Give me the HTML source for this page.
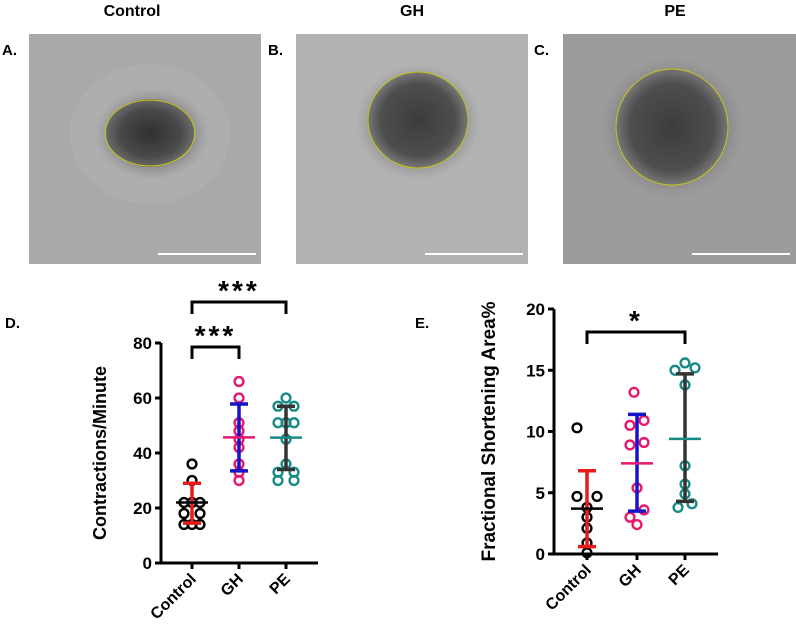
<!DOCTYPE html>
<html><head><meta charset="utf-8"><style>
body{margin:0;background:#fff;width:796px;height:629px;overflow:hidden}
svg{display:block;font-family:"Liberation Sans",Arial,sans-serif}
</style></head><body>
<svg id="fig" width="796" height="629" viewBox="0 0 796 629">
<defs>
<radialGradient id="gA" cx="0.5" cy="0.5" r="0.5"><stop offset="0" stop-color="#2f2f2f"/><stop offset="0.7" stop-color="#4a4a4a"/><stop offset="1" stop-color="#6a6a6a"/></radialGradient>
<radialGradient id="gB" cx="0.5" cy="0.5" r="0.5"><stop offset="0" stop-color="#3c3c3c"/><stop offset="0.75" stop-color="#4e4e4e"/><stop offset="1" stop-color="#777"/></radialGradient>
<radialGradient id="halo" cx="0.5" cy="0.5" r="0.5"><stop offset="0.6" stop-color="#666" stop-opacity="0.7"/><stop offset="1" stop-color="#888" stop-opacity="0"/></radialGradient>
</defs>
<g font-weight="bold" font-size="16" fill="#000">
<text x="132" y="16" text-anchor="middle">Control</text>
<text x="412" y="16" text-anchor="middle">GH</text>
<text x="675" y="16" text-anchor="middle">PE</text>
<text x="2" y="55" font-size="15">A.</text>
<text x="268" y="55" font-size="15">B.</text>
<text x="534" y="55" font-size="15">C.</text>
<text x="5" y="328" font-size="15">D.</text>
<text x="415" y="328" font-size="15">E.</text>
</g>
<g>
<rect x="29" y="34" width="232" height="230" fill="#a9a9a9"/>
<ellipse cx="150" cy="134" rx="80" ry="70" fill="#b4b4b4" opacity="0.5"/>
<ellipse cx="152" cy="134" rx="58" ry="46" fill="url(#halo)"/>
<ellipse cx="150" cy="133" rx="44" ry="34" fill="url(#gA)"/>
<ellipse cx="150" cy="133" rx="45" ry="33" fill="none" stroke="#c8c41a" stroke-width="1"/>
<rect x="158" y="253" width="98" height="2" fill="#fff"/>
</g>
<g>
<rect x="296" y="34" width="232" height="230" fill="#b2b2b2"/>
<ellipse cx="418" cy="122" rx="62" ry="58" fill="url(#halo)"/>
<ellipse cx="418" cy="120" rx="50" ry="48" fill="url(#gB)"/>
<ellipse cx="418" cy="120" rx="50" ry="48" fill="none" stroke="#c8c41a" stroke-width="1"/>
<rect x="425" y="253" width="98" height="2" fill="#fff"/>
</g>
<g>
<rect x="563" y="34" width="233" height="230" fill="#9c9c9c"/>
<ellipse cx="672" cy="128" rx="74" ry="72" fill="url(#halo)"/>
<ellipse cx="672" cy="127" rx="56" ry="58" fill="url(#gB)"/>
<ellipse cx="672" cy="127" rx="56" ry="58" fill="none" stroke="#c8c41a" stroke-width="1"/>
<rect x="692" y="253" width="98" height="2" fill="#fff"/>
</g>
<g id="chartD"></g>
<g id="chartE"></g>
</svg>
<script>
// Chart D data
const dCategories = ["Control","GH","PE"];
const dControl = [36,30,22,22,22,18,18,14,14,14];
const dControlOff = [0,0,-1,0,1,-1,1,-1,0,1];
const dGH = [66,60,51,48,45,42,36,33,30];
const dGHOff = [0,0,0,0,0,0,0,0,0];
const dPE = [60,57,57,51,51,51,45,36,33,33,30,30];
const dPEOff = [0,-1,1,-1,0,1,0,0,-1,1,-1,1];
const dMeans = [22,45.7,45.6];
const dSdLow = [14.5,33.5,34];
const dSdHigh = [29,57.8,57];
const dTicks = [0,20,40,60,80];
// Chart E data
const eCategories = ["Control","GH","PE"];
const eControl = [10.3,4.7,4.7,3.8,3.0,2.1,0.9,0.1];
const eControlOff = [-1,-1,1,0,0,0,0,0];
const eGH = [13.2,10.9,10.5,9.1,8.9,5.4,3.6,3.0,2.4];
const eGHOff = [-0.3,0.7,-0.7,0.7,-0.7,0,0.7,-0.7,0];
const ePE = [15.6,15.2,15.0,13.8,7.2,5.7,4.9,4.1,3.8];
const ePEOff = [0,1,-1,0,0,0,0,0.7,-0.7];
const eMeans = [3.7,7.4,9.4];
const eSdLow = [0.6,3.5,4.3];
const eSdHigh = [6.8,11.4,14.7];
const eTicks = [0,5,10,15,20];

const NS="http://www.w3.org/2000/svg";
function mk(parent,tag,attrs){const e=document.createElementNS(NS,tag);for(const k in attrs)e.setAttribute(k,attrs[k]);parent.appendChild(e);return e;}

function drawChart(g,cfg){
  const y=v=>cfg.y0-(v-cfg.min)/(cfg.max-cfg.min)*(cfg.y0-cfg.y1);
  const x=i=>cfg.xs[i];
  const ax=mk(g,'path',{d:`M${cfg.ax} ${y(cfg.max)}V${cfg.y0}H${cfg.xEnd}`,stroke:'#000','stroke-width':3,fill:'none'});
  
  
  cfg.ticks.forEach(t=>{
    const l=mk(g,'line',{x1:cfg.ax-6,x2:cfg.ax,y1:y(t),y2:y(t),stroke:'#000','stroke-width':3});
    
    
    const tx=mk(g,'text',{x:cfg.ax-9,y:y(t)+6,'text-anchor':'end','font-size':17,'font-weight':'bold'});
    tx.textContent=t;
    
    
  });
  cfg.cats.forEach((c,i)=>{
    const l=mk(g,'line',{x1:x(i),x2:x(i),y1:cfg.y0,y2:cfg.y0+6,stroke:'#000','stroke-width':3});
    
    
    const tx=mk(g,'text',{x:x(i)+5,y:cfg.y0+17,'text-anchor':'end','font-size':16,'font-weight':'bold',transform:`rotate(-45 ${x(i)+5} ${cfg.y0+17})`});
    tx.textContent=c;
    
    
  });
  const yt=mk(g,'text',{x:cfg.titleX,y:(y(cfg.max)+cfg.y0)/2,'text-anchor':'middle','font-size':cfg.titleSize,'font-weight':'bold',transform:`rotate(-90 ${cfg.titleX} ${(y(cfg.max)+cfg.y0)/2})`});
  yt.textContent=cfg.title;
  
  
  cfg.series.forEach((s,i)=>{
    const col=cfg.ptCols[i];
    s.vals.forEach((v,j)=>{
      const p=mk(g,'circle',{cx:x(i)+s.off[j]*cfg.dx,cy:y(v),r:4.4,fill:'none',stroke:col,'stroke-width':2.4});
      
      
    });
    const eb=mk(g,'path',{d:`M${x(i)} ${y(cfg.lo[i])}V${y(cfg.hi[i])}M${x(i)-9} ${y(cfg.lo[i])}h18M${x(i)-9} ${y(cfg.hi[i])}h18`,stroke:cfg.barCols[i],'stroke-width':3.5,fill:'none'});
    
    
    const m=mk(g,'line',{x1:x(i)-16,x2:x(i)+16,y1:y(cfg.means[i]),y2:y(cfg.means[i]),stroke:cfg.meanCols[i],'stroke-width':2.5});
    
    
  });
  cfg.sig.forEach(s=>{
    const b=mk(g,'path',{d:`M${x(s.a)} ${s.y+12}V${s.y}H${x(s.b)}V${s.y+12}`,stroke:'#000','stroke-width':3,fill:'none'});
    
    
    const t=mk(g,'text',{x:(x(s.a)+x(s.b))/2,y:s.y-2,'text-anchor':'middle','font-size':28,'font-weight':'bold','letter-spacing':3});
    t.textContent=s.label;
    
    
  });
}
drawChart(document.getElementById('chartD'),{
  min:0,max:80,y0:563,y1:343,ax:161,xEnd:318,xs:[192,239,286],dx:8,
  cats:dCategories,ticks:dTicks,title:"Contractions/Minute",titleX:106,titleSize:18,
  series:[{vals:dControl,off:dControlOff},{vals:dGH,off:dGHOff},{vals:dPE,off:dPEOff}],
  ptCols:['#000','#e8176e','#178a85'],barCols:['#e81b1b','#1414c8','#333'],meanCols:['#000','#e8176e','#178a85'],
  means:dMeans,lo:dSdLow,hi:dSdHigh,
  sig:[{a:0,b:1,y:347,label:'***'},{a:0,b:2,y:302,label:'***'}]
});
drawChart(document.getElementById('chartE'),{
  min:0,max:20,y0:554,y1:309,ax:554,xEnd:718,xs:[587,637,685],dx:10,
  cats:eCategories,ticks:eTicks,title:"Fractional Shortening Area%",titleX:495,titleSize:19,
  series:[{vals:eControl,off:eControlOff},{vals:eGH,off:eGHOff},{vals:ePE,off:ePEOff}],
  ptCols:['#000','#e8176e','#178a85'],barCols:['#e81b1b','#1414c8','#333'],meanCols:['#000','#e8176e','#178a85'],
  means:eMeans,lo:eSdLow,hi:eSdHigh,
  sig:[{a:0,b:2,y:332,label:'*'}]
});
</script>
</body></html>
